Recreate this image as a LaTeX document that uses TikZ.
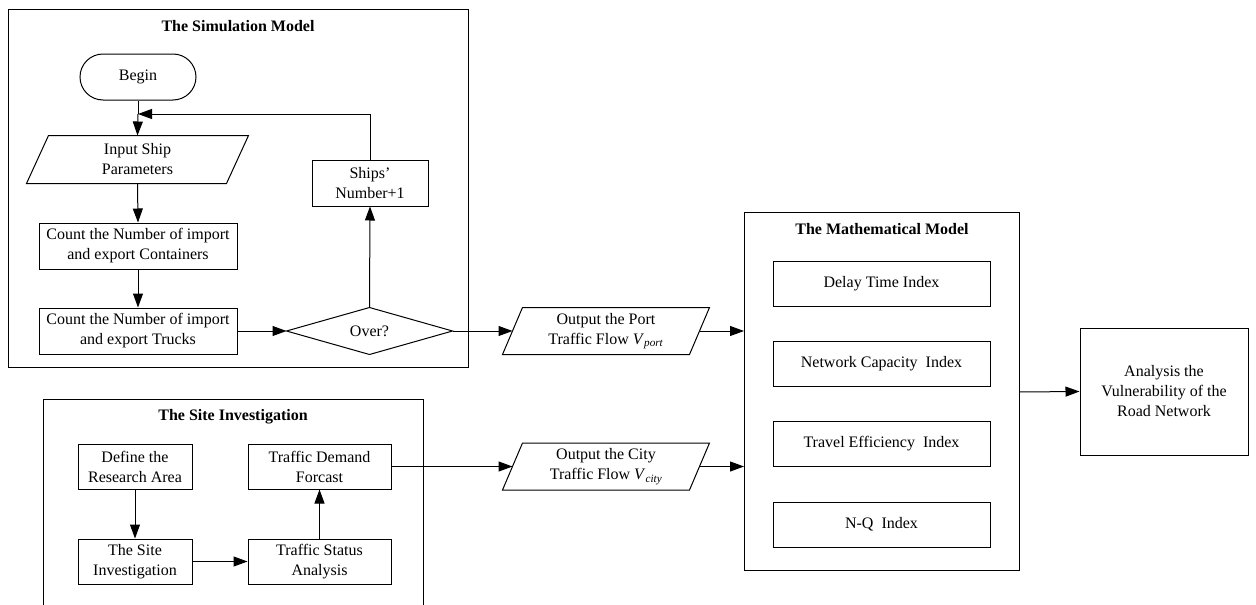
\documentclass[tikz,border=0pt]{standalone}
\usepackage{fontspec}
\setmainfont{Liberation Serif}
\usetikzlibrary{arrows.meta,calc}
\begin{document}
\begin{tikzpicture}[x=1pt,y=-1pt,
  font=\fontsize{16}{20}\selectfont,
  line width=1pt,
  arr/.style={-{Triangle[length=14pt,width=10pt]}},
  box/.style={draw,rectangle,inner sep=0pt,align=center},
  ghost/.style={rectangle,inner sep=0pt,align=center},
  ttl/.style={font=\fontsize{16}{20}\selectfont\bfseries,inner sep=0pt}]
\useasboundingbox (0,0) rectangle (1256,605);
% frames
\draw (8,9) rectangle (468,367);
\node[ttl] (t1) at (238,26) {The Simulation Model};
\draw (43,605) -- (43,399) -- (423,399) -- (423,605);
\node[ttl] (t2) at (233,417) {The Site Investigation};
\draw (744,212) rectangle (1019,570);
\node[ttl] (t3) at (882,229) {The Mathematical Model};

% simulation model
\node[box,rounded corners=23pt,minimum width=116,minimum height=46] (begin) at (138,77) {Begin};
\node[ghost,minimum width=199,minimum height=47] (inp) at (137.5,159.5) {Input Ship\\Parameters};
\draw ($(inp.north west)+(11,0)$) -- ($(inp.north east)+(11,0)$) -- ($(inp.south east)+(-11,0)$) -- ($(inp.south west)+(-11,0)$) -- cycle;
\node[box,minimum width=198,minimum height=46] (cnt1) at (138,246) {Count the Number of import\\and export Containers};
\node[box,minimum width=198,minimum height=46] (cnt2) at (138,331) {Count the Number of import\\and export Trucks};
\node[ghost,minimum width=165,minimum height=46] (over) at (369.5,331) {Over?};
\draw (over.west) -- (over.north) -- (over.east) -- (over.south) -- cycle;
\node[box,minimum width=116,minimum height=46] (ships) at (370,183) {Ships’\\Number+1};
\coordinate (loop) at (138,114);
\coordinate (loopr) at (370,114);

\draw (begin.south) -- (loop);
\draw[arr] (loop) -- (inp.north);
\draw[arr] (inp.south) -- (cnt1.north);
\draw[arr] (cnt1.south) -- (cnt2.north);
\draw[arr] (cnt2.east) -- (over.west);
\draw[arr] (over.north) -- (ships.south);
\draw[arr] (ships.north) -- (loopr) -- (loop);

% outputs
\node[ghost,minimum width=186,minimum height=46] (port) at (606,331) {Output the Port\\Traffic Flow \textit{V}\textsubscript{\textit{port}}};
\draw ($(port.north west)+(10,0)$) -- ($(port.north east)+(10,0)$) -- ($(port.south east)+(-10,0)$) -- ($(port.south west)+(-10,0)$) -- cycle;
\node[ghost,minimum width=186,minimum height=46] (city) at (606,466.5) {Output the City\\Traffic Flow \textit{V}\textsubscript{\textit{city}}};
\draw ($(city.north west)+(10,0)$) -- ($(city.north east)+(10,0)$) -- ($(city.south east)+(-10,0)$) -- ($(city.south west)+(-10,0)$) -- cycle;

% site investigation
\node[box,minimum width=114,minimum height=45] (def) at (135,466.5) {Define the\\Research Area};
\node[box,minimum width=114,minimum height=45] (site) at (135,561.5) {The Site\\Investigation};
\node[box,minimum width=143,minimum height=45] (dem) at (319.5,466.5) {Traffic Demand\\Forcast};
\node[box,minimum width=143,minimum height=45] (stat) at (319.5,561.5) {Traffic Status\\Analysis};
\draw[arr] (def.south) -- (site.north);
\draw[arr] (site.east) -- (stat.west);
\draw[arr] (stat.north) -- (dem.south);

% math model
\coordinate (mleft1) at (744,331);
\coordinate (mleft2) at (744,466.5);
\coordinate (mright) at (1019,392);
\node[box,minimum width=217,minimum height=45] (i1) at (881.5,283.5) {Delay Time Index};
\node[box,minimum width=217,minimum height=45] (i2) at (881.5,364) {Network Capacity\ \ Index};
\node[box,minimum width=217,minimum height=45] (i3) at (881.5,444) {Travel Efficiency\ \ Index};
\node[box,minimum width=217,minimum height=45] (i4) at (881.5,524.5) {N-Q\ \ Index};
\node[box,minimum width=168,minimum height=127] (ana) at (1164,391.5) {Analysis the\\Vulnerability of the\\Road Network};

\draw[arr] (over.east) -- (port.west);
\draw[arr] (port.east) -- (mleft1);
\draw[arr] (dem.east) -- (city.west);
\draw[arr] (city.east) -- (mleft2);
\draw[arr] (mright) -- (ana.west);
\end{tikzpicture}
\end{document}
